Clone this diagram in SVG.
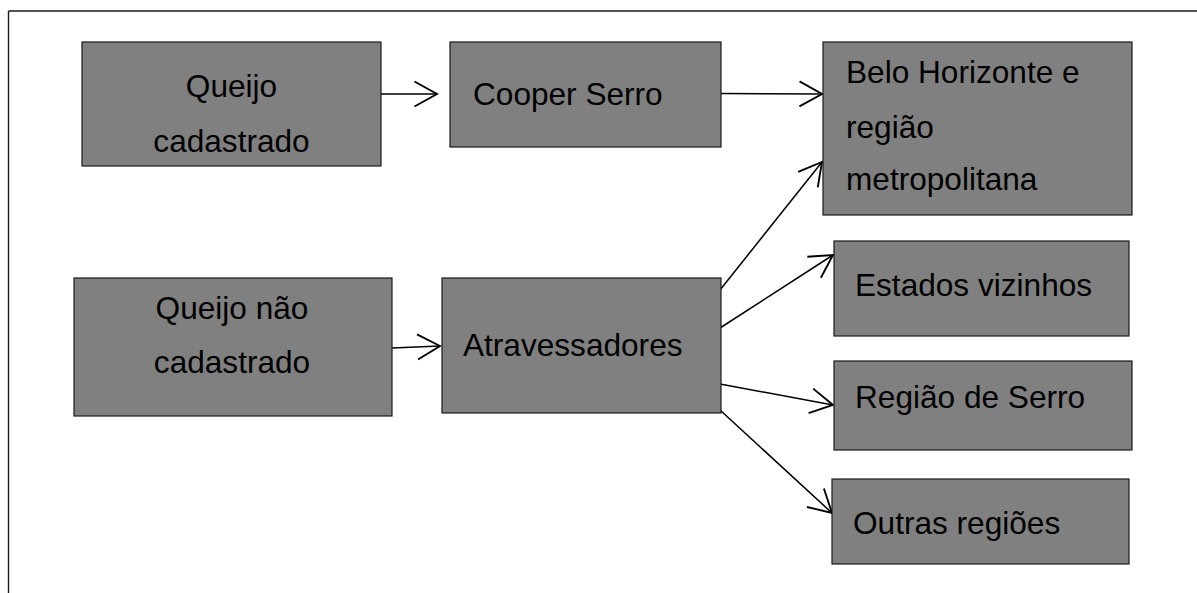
<svg xmlns="http://www.w3.org/2000/svg" width="1197" height="593" viewBox="0 0 1197 593">
<style>
.box{fill:#808080;stroke:#1a1a1a;stroke-width:1.2}
.t{font-family:"Liberation Sans",Arial,sans-serif;font-size:31.6px;fill:#000}
.c{text-anchor:middle}
.ln{stroke:#000;stroke-width:1.5;fill:none;marker-end:url(#arr)}
</style>
<defs>
<marker id="arr" markerUnits="userSpaceOnUse" markerWidth="30" markerHeight="30" viewBox="-20 -12 24 24" refX="0" refY="0" orient="auto" overflow="visible">
<path d="M-18,-10 L0,0 L-18,10" fill="none" stroke="#000" stroke-width="1.5"/>
</marker>
</defs>
<rect width="1197" height="593" fill="#fff"/>
<g id="frame" stroke="#1a1a1a" stroke-width="1.4" fill="none">
<line x1="8.5" y1="11" x2="1197" y2="11"/>
<line x1="8.5" y1="11" x2="8.5" y2="593"/>
</g>
<g id="connectors">
<line class="ln" x1="381" y1="94" x2="437" y2="94"/>
<line class="ln" x1="721" y1="93.5" x2="822" y2="94"/>
<line class="ln" x1="392" y1="348" x2="440" y2="346"/>
<line class="ln" x1="720" y1="290" x2="822" y2="162"/>
<line class="ln" x1="720" y1="328" x2="833" y2="255"/>
<line class="ln" x1="720" y1="384" x2="833" y2="405"/>
<line class="ln" x1="720" y1="410" x2="832" y2="513"/>
</g>
<g id="queijo-cadastrado">
<rect class="box" x="82" y="42" width="299" height="124"/>
<text class="t c" x="231.5" y="97">Queijo</text>
<text class="t c" x="231.5" y="152">cadastrado</text>
</g>
<g id="cooper-serro">
<rect class="box" x="450" y="42" width="271" height="105"/>
<text class="t" x="473" y="105">Cooper Serro</text>
</g>
<g id="belo-horizonte">
<rect class="box" x="823" y="42" width="309" height="173"/>
<text class="t" x="846" y="83">Belo Horizonte e</text>
<text class="t" x="846" y="138">região</text>
<text class="t" x="846" y="190">metropolitana</text>
</g>
<g id="queijo-nao-cadastrado">
<rect class="box" x="74" y="278" width="318" height="138"/>
<text class="t c" x="232" y="319">Queijo não</text>
<text class="t c" x="232" y="373">cadastrado</text>
</g>
<g id="atravessadores">
<rect class="box" x="442" y="278" width="279" height="135"/>
<text class="t" x="463" y="356">Atravessadores</text>
</g>
<g id="estados-vizinhos">
<rect class="box" x="834" y="241" width="295" height="95"/>
<text class="t" x="855" y="296">Estados vizinhos</text>
</g>
<g id="regiao-de-serro">
<rect class="box" x="834" y="361" width="298" height="89"/>
<text class="t" x="855" y="408">Região de Serro</text>
</g>
<g id="outras-regioes">
<rect class="box" x="832" y="479" width="297" height="85"/>
<text class="t" x="853" y="534">Outras regiões</text>
</g>
</svg>
